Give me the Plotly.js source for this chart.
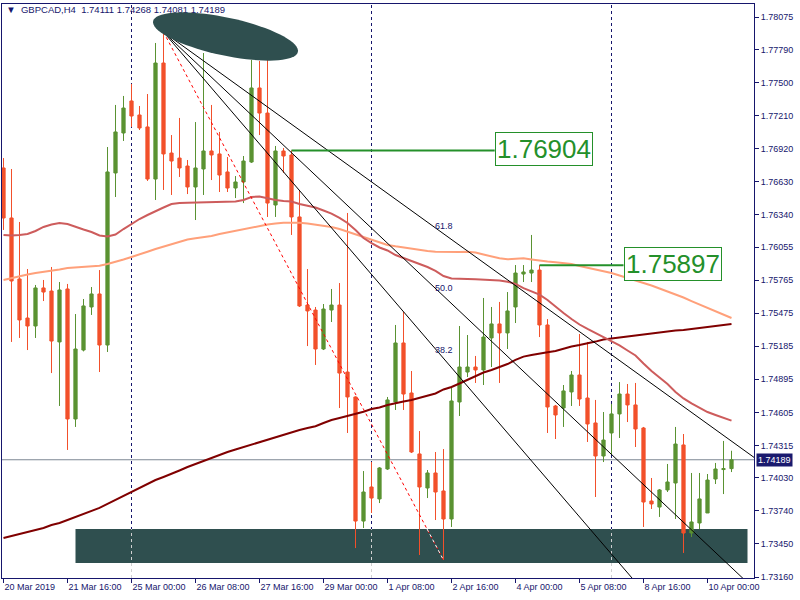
<!DOCTYPE html>
<html>
<head>
<meta charset="utf-8">
<script src="https://cdn.plot.ly/plotly-3.0.1.min.js"></script>
<style>
html,body{margin:0;padding:0;background:#ffffff;}
#chart{width:800px;height:600px;}
</style>
</head>
<body>
<div id="chart"></div>
<script>
// ---------------- data ----------------
const symbolName = "GBPCAD,H4";
const lastBarInfo = ["1.74111", "1.74268", "1.74081", "1.74189"];

const timeTickIndex = [0, 8, 16, 24, 32, 40, 48, 56, 64, 72, 80, 88];
const timeTickText = ["20 Mar 2019", "21 Mar 16:00", "25 Mar 00:00", "26 Mar 08:00", "27 Mar 16:00",
  "29 Mar 00:00", "1 Apr 08:00", "2 Apr 16:00", "4 Apr 00:00", "5 Apr 08:00", "8 Apr 16:00", "10 Apr 00:00"];

const priceTicks = [1.78075, 1.77790, 1.77500, 1.77210, 1.76920, 1.76630, 1.76340, 1.76055, 1.75765,
  1.75475, 1.75185, 1.74895, 1.74605, 1.74315, 1.74030, 1.73740, 1.73450, 1.73160];

const openP = [1.76750,1.76311,1.75776,1.75433,1.75363,1.75697,1.75670,1.75223,1.75688,1.74547,
  1.75152,1.75530,1.75644,1.75196,1.76706,1.77057,1.77338,1.77215,1.77110,1.76653,
  1.77671,1.76881,1.76837,1.76767,1.76583,1.76741,1.76899,1.76873,1.76715,1.76574,
  1.76627,1.76802,1.77452,1.77232,1.76425,1.76899,1.76864,1.76320,1.75547,1.75503,
  1.75161,1.75503,1.75547,1.74959,1.74740,1.73651,1.73950,1.73845,1.74108,1.74696,
  1.75214,1.74775,1.74240,1.73941,1.74073,1.73915,1.73669,1.74696,1.74959,1.75003,
  1.74977,1.75258,1.75381,1.75302,1.75530,1.75819,1.75828,1.75854,1.75372,1.74661,
  1.74643,1.74784,1.74933,1.74731,1.74512,1.74222,1.74424,1.74591,1.74766,1.74670,
  1.74468,1.73827,1.73774,1.73924,1.73985,1.74319,1.73546,1.73634,1.73722,1.74020,
  1.74103,1.74111];
const highP = [1.76837,1.76741,1.76276,1.75863,1.75723,1.75767,1.75881,1.75749,1.75732,1.75468,
  1.75600,1.75705,1.75854,1.76934,1.77303,1.77382,1.77487,1.77294,1.77399,1.77847,
  1.77943,1.77039,1.77189,1.76820,1.77153,1.77759,1.77303,1.77066,1.76846,1.76679,
  1.76855,1.77698,1.77689,1.77900,1.76943,1.76925,1.76904,1.76557,1.75863,1.75530,
  1.75556,1.75688,1.75740,1.76355,1.74745,1.74090,1.74169,1.74125,1.74740,1.75372,
  1.75486,1.74968,1.74441,1.74099,1.74257,1.74283,1.74828,1.75363,1.75284,1.75100,
  1.75609,1.75530,1.75574,1.75661,1.75898,1.75898,1.76162,1.75897,1.75424,1.74670,
  1.74845,1.74968,1.75293,1.75223,1.74714,1.74608,1.74679,1.74871,1.74854,1.74863,
  1.74477,1.74029,1.73932,1.74152,1.74477,1.74415,1.74073,1.74073,1.74064,1.74161,
  1.74354,1.74268];
const lowP = [1.76206,1.75223,1.75258,1.75152,1.75258,1.75582,1.74950,1.74661,1.74275,1.74477,
  1.75140,1.75460,1.74959,1.75135,1.76495,1.76987,1.77110,1.77083,1.76636,1.76469,
  1.76557,1.76513,1.76671,1.76521,1.76293,1.76513,1.76644,1.76539,1.76539,1.76486,
  1.76442,1.76794,1.77039,1.76320,1.76320,1.76706,1.76162,1.75530,1.75187,1.75021,
  1.75152,1.75398,1.74643,1.74424,1.73414,1.73590,1.73722,1.73809,1.74100,1.74626,
  1.74626,1.74248,1.73353,1.73853,1.73660,1.73309,1.73599,1.74573,1.74915,1.74863,
  1.74845,1.75003,1.74863,1.75161,1.75389,1.75749,1.75749,1.75266,1.74424,1.74371,
  1.74477,1.74661,1.74661,1.74345,1.73862,1.74169,1.74231,1.74380,1.74520,1.74301,
  1.73599,1.73757,1.73687,1.73906,1.73669,1.73371,1.73511,1.73581,1.73722,1.73976,
  1.73888,1.74081];
const closeP = [1.76311,1.75758,1.75416,1.75363,1.75697,1.75661,1.75231,1.75679,1.74547,1.75161,
  1.75539,1.75644,1.75196,1.76715,1.77066,1.77276,1.77206,1.77101,1.76653,1.77671,
  1.76873,1.76811,1.76750,1.76583,1.76750,1.76899,1.76864,1.76688,1.76574,1.76627,
  1.76811,1.77452,1.77232,1.76442,1.76899,1.76855,1.76320,1.75539,1.75495,1.75161,
  1.75512,1.75547,1.74950,1.74740,1.73651,1.73906,1.73853,1.74117,1.74714,1.75214,
  1.74766,1.74257,1.73950,1.74073,1.73906,1.73669,1.74705,1.75003,1.75003,1.74977,
  1.75266,1.75381,1.75302,1.75495,1.75828,1.75837,1.75854,1.75372,1.74652,1.74582,
  1.74793,1.74933,1.74722,1.74503,1.74222,1.74362,1.74591,1.74766,1.74670,1.74459,
  1.73818,1.73801,1.73924,1.73994,1.74327,1.73546,1.73643,1.73845,1.74011,1.74108,
  1.74111,1.74189];

// moving averages (IndianRed, LightSalmon, Maroon)
const maFast = [1.76162,1.76157,1.76162,1.76170,1.76197,1.76232,1.76254,1.76267,1.76258,1.76232,
  1.76210,1.76188,1.76157,1.76148,1.76166,1.76214,1.76258,1.76302,1.76337,1.76372,
  1.76403,1.76434,1.76443,1.76445,1.76447,1.76447,1.76449,1.76451,1.76454,1.76456,
  1.76469,1.76495,1.76500,1.76484,1.76469,1.76460,1.76456,1.76434,1.76416,1.76403,
  1.76377,1.76350,1.76311,1.76267,1.76206,1.76135,1.76091,1.76052,1.76026,1.75986,
  1.75960,1.75933,1.75907,1.75881,1.75846,1.75802,1.75780,1.75775,1.75775,1.75774,
  1.75771,1.75767,1.75762,1.75752,1.75732,1.75696,1.75666,1.75638,1.75591,1.75530,
  1.75477,1.75424,1.75376,1.75337,1.75302,1.75262,1.75225,1.75192,1.75148,1.75104,
  1.75034,1.74968,1.74911,1.74854,1.74784,1.74727,1.74683,1.74643,1.74608,1.74582,
  1.74555,1.74532];
const maMid = [1.75767,1.75784,1.75802,1.75815,1.75828,1.75837,1.75848,1.75859,1.75872,1.75876,
  1.75881,1.75887,1.75892,1.75907,1.75925,1.75947,1.75969,1.75990,1.76015,1.76039,
  1.76061,1.76083,1.76105,1.76122,1.76133,1.76142,1.76153,1.76170,1.76184,1.76197,
  1.76214,1.76227,1.76241,1.76254,1.76263,1.76270,1.76270,1.76270,1.76263,1.76254,
  1.76245,1.76232,1.76214,1.76191,1.76170,1.76147,1.76122,1.76096,1.76074,1.76062,
  1.76052,1.76039,1.76027,1.76021,1.76015,1.76012,1.76010,1.76012,1.76015,1.76008,
  1.75990,1.75971,1.75957,1.75948,1.75954,1.75957,1.75947,1.75936,1.75929,1.75922,
  1.75916,1.75907,1.75890,1.75875,1.75859,1.75846,1.75828,1.75806,1.75784,1.75764,
  1.75745,1.75718,1.75692,1.75666,1.75644,1.75613,1.75582,1.75552,1.75521,1.75490,
  1.75460,1.75433];
const maSlow = [1.73502,1.73520,1.73537,1.73555,1.73573,1.73590,1.73616,1.73634,1.73660,1.73687,
  1.73713,1.73739,1.73766,1.73801,1.73836,1.73871,1.73906,1.73941,1.73976,1.74011,
  1.74038,1.74064,1.74095,1.74125,1.74152,1.74178,1.74204,1.74231,1.74257,1.74279,
  1.74301,1.74323,1.74345,1.74362,1.74384,1.74406,1.74428,1.74450,1.74468,1.74483,
  1.74512,1.74538,1.74556,1.74573,1.74591,1.74611,1.74635,1.74648,1.74670,1.74687,
  1.74700,1.74714,1.74731,1.74749,1.74771,1.74806,1.74828,1.74858,1.74889,1.74918,
  1.74955,1.74977,1.75003,1.75029,1.75065,1.75094,1.75108,1.75123,1.75132,1.75143,
  1.75165,1.75183,1.75196,1.75209,1.75226,1.75244,1.75255,1.75266,1.75271,1.75280,
  1.75290,1.75297,1.75308,1.75315,1.75324,1.75328,1.75337,1.75346,1.75354,1.75363,
  1.75372,1.75381];

// Fibonacci fan (from bar 20 high to bar 55 low)
const fanFrom = 20, fanTo = 55;
const fanLevels = [0.382, 0.5, 0.618];
const fanLabels = ["38.2", "50.0", "61.8"];

// marked levels (price labels)
const markedPrices = [1.76904, 1.75897];
const markedFrom = [36, 67];
const markedTo = [61.4, 77.5];

const weekStartBars = [16, 46, 76];
const currentPrice = 1.74189;
const zoneBars = [9, 93];
const zonePrices = [1.73283, 1.73581];

// ---------------- layout helpers ----------------
const bars = openP.map((_, i) => i);
const xRange = [-0.1875, 93.8125];
const yRange = [1.731512, 1.781891];
const plotW = 752, plotH = 574;
const pxX = plotW / (xRange[1] - xRange[0]);
const pxY = plotH / (yRange[1] - yRange[0]);

const navy = '#16166c';
const green = '#5a9232', red = '#f2502b';
const font = 'Liberation Sans, Arial, sans-serif';

const traces = [];
// title text as a trace so the ellipse drawing covers it
traces.push({
  type: 'scatter', mode: 'text', x: [0.35], y: [yRange[1] - 7 / pxY],
  text: ['\u25BC\u00a0\u00a0' + symbolName + '\u00a0\u00a0' + lastBarInfo.join('\u00a0')],
  textposition: 'middle right', textfont: {family: font, size: 9.5, color: navy},
  cliponaxis: false, hoverinfo: 'skip', showlegend: false
});
traces.push({type: 'scatter', mode: 'lines', x: bars, y: maSlow, line: {color: '#800000', width: 2}, hoverinfo: 'skip'});
traces.push({type: 'scatter', mode: 'lines', x: bars, y: maMid, line: {color: '#ffa07a', width: 2}, hoverinfo: 'skip'});
traces.push({type: 'scatter', mode: 'lines', x: bars, y: maFast, line: {color: '#cd5c5c', width: 2}, hoverinfo: 'skip'});
traces.push({
  type: 'candlestick', x: bars, open: openP, high: highP, low: lowP, close: closeP,
  increasing: {line: {color: green, width: 1}, fillcolor: green},
  decreasing: {line: {color: red, width: 1}, fillcolor: red},
  whiskerwidth: 0, hoverinfo: 'skip', showlegend: false
});

// fan lines
const fHigh = highP[fanFrom], fLow = lowP[fanTo];
const farX = 120;
fanLevels.forEach(r => {
  const lv = fLow + r * (fHigh - fLow);
  const yEnd = fHigh + (lv - fHigh) * (farX - fanFrom) / (fanTo - fanFrom);
  traces.push({type: 'scatter', mode: 'lines', x: [fanFrom, farX], y: [fHigh, yEnd],
    line: {color: '#000000', width: 1}, hoverinfo: 'skip'});
});
// base trend line (red dotted)
traces.push({type: 'scatter', mode: 'lines', x: [fanFrom, fanTo], y: [fHigh, fLow],
  line: {color: '#ff0000', width: 1, dash: 'dot'}, hoverinfo: 'skip'});
// portion over the dark zone shows light
const tZone = (zonePrices[1] - fHigh) / (fLow - fHigh);
traces.push({type: 'scatter', mode: 'lines',
  x: [fanFrom + tZone * (fanTo - fanFrom), fanTo], y: [zonePrices[1], fLow],
  line: {color: '#ffffff', width: 1, dash: 'dot'}, hoverinfo: 'skip'});

// marked level lines
markedPrices.forEach((p, k) => {
  traces.push({type: 'scatter', mode: 'lines', x: [markedFrom[k], markedTo[k]], y: [p, p],
    line: {color: '#24902a', width: 2}, hoverinfo: 'skip'});
});

// ellipse drawing
const ecx = 27.75, ecy = 1.779038, ea = 74, eb = 19, eth = 12 * Math.PI / 180;
let ep = '';
for (let k = 0; k <= 72; k++) {
  const t = k / 72 * 2 * Math.PI;
  const dx = ea * Math.cos(t) * Math.cos(eth) - eb * Math.sin(t) * Math.sin(eth);
  const dy = ea * Math.cos(t) * Math.sin(eth) + eb * Math.sin(t) * Math.cos(eth);
  ep += (k === 0 ? 'M' : 'L') + (ecx + dx / pxX).toFixed(4) + ',' + (ecy - dy / pxY).toFixed(6);
}
ep += 'Z';

const shapes = [];
weekStartBars.forEach(b => shapes.push({type: 'line', xref: 'x', yref: 'paper', x0: b, x1: b, y0: 0, y1: 1,
  line: {color: navy, width: 1, dash: '3px,3px'}, layer: 'below'}));
shapes.push({type: 'line', xref: 'paper', yref: 'y', x0: 0, x1: 1, y0: currentPrice, y1: currentPrice,
  line: {color: '#7d8793', width: 1}, layer: 'below'});
shapes.push({type: 'rect', xref: 'x', yref: 'y', x0: zoneBars[0], x1: zoneBars[1], y0: zonePrices[0], y1: zonePrices[1],
  fillcolor: '#2f4f4f', line: {width: 0}, layer: 'below'});
weekStartBars.forEach(b => shapes.push({type: 'line', xref: 'x', yref: 'y', x0: b, x1: b, y0: yRange[0], y1: zonePrices[1],
  line: {color: '#d0d0d0', width: 1, dash: '3px,3px'}, layer: 'below'}));
shapes.push({type: 'path', path: ep, fillcolor: '#2f4f4f', line: {width: 0}, layer: 'above'});

const annotations = [];
fanLevels.forEach((r, k) => {
  const lv = fLow + r * (fHigh - fLow);
  annotations.push({x: fanTo, y: lv, xref: 'x', yref: 'y', text: fanLabels[k], showarrow: false,
    xanchor: 'center', yanchor: 'middle', yshift: 8, font: {family: font, size: 9, color: navy}});
});
markedPrices.forEach((p, k) => {
  annotations.push({x: markedTo[k], y: p, xref: 'x', yref: 'y', text: p.toFixed(5), showarrow: false,
    xanchor: 'left', yanchor: 'middle', yshift: 1, bgcolor: '#ffffff', bordercolor: '#24902a', borderwidth: 1, borderpad: 1,
    font: {family: font, size: 26, color: '#24902a'}});
});
annotations.push({x: 1, xref: 'paper', y: currentPrice, yref: 'y', text: currentPrice.toFixed(5), showarrow: false,
  xanchor: 'left', yanchor: 'middle', xshift: 2, bgcolor: '#1a1a6e', borderpad: 1,
  font: {family: font, size: 9, color: '#ffffff'}});

const layout = {
  width: 800, height: 600,
  margin: {l: 2, r: 46, t: 4, b: 22, pad: 0},
  paper_bgcolor: '#ffffff', plot_bgcolor: '#ffffff',
  showlegend: false, dragmode: false, boxgap: 0.42,
  font: {family: font, size: 9, color: navy},
  xaxis: {range: xRange, tickvals: timeTickIndex, ticktext: timeTickText, ticklabelposition: 'outside right',
    ticks: 'outside', ticklen: 4, tickcolor: navy, showgrid: false, zeroline: false,
    showline: true, linecolor: navy, linewidth: 1, mirror: true, fixedrange: true,
    rangeslider: {visible: false}, tickfont: {family: font, size: 9, color: navy}},
  yaxis: {range: yRange, side: 'right', tickvals: priceTicks, ticktext: priceTicks.map(v => v.toFixed(5)),
    ticks: 'outside', ticklen: 4, tickcolor: navy, showgrid: false, zeroline: false,
    showline: true, linecolor: navy, linewidth: 1, mirror: true, fixedrange: true,
    tickfont: {family: font, size: 9, color: navy}},
  shapes: shapes, annotations: annotations
};

Plotly.newPlot('chart', traces, layout, {staticPlot: true, displayModeBar: false});
</script>
</body>
</html>
